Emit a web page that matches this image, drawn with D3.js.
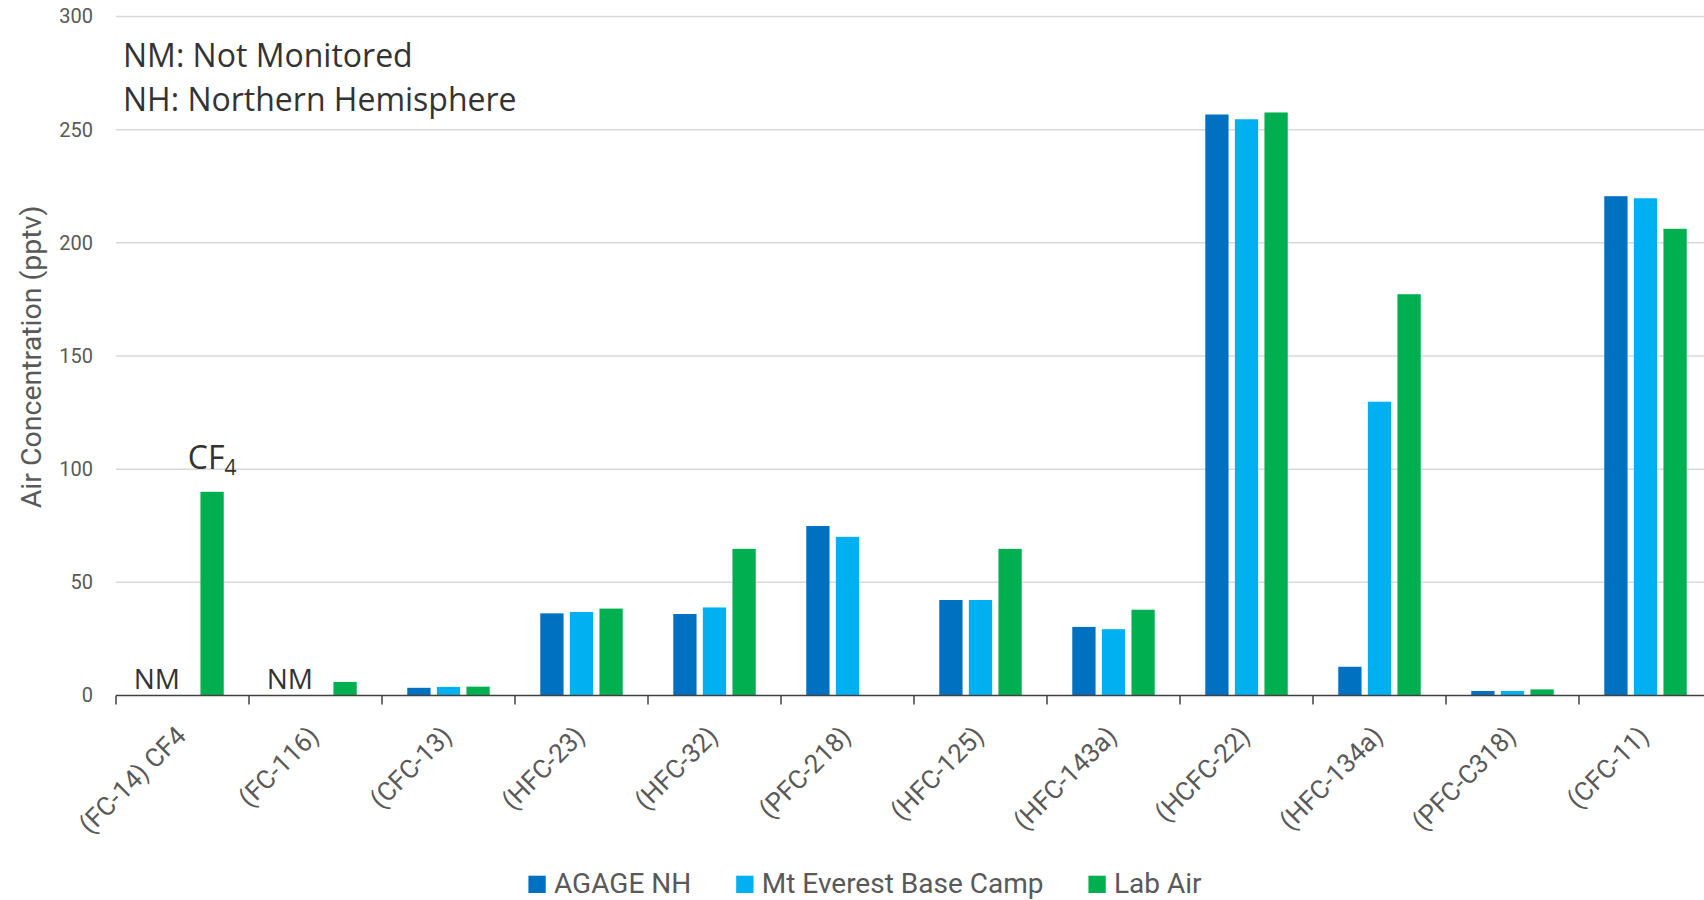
<!DOCTYPE html>
<html>
<head>
<meta charset="utf-8">
<script src="https://cdn.jsdelivr.net/npm/d3@7"></script>
<style>
    body { margin: 0; background: #fff; }
    svg { display: block; }
</style>
</head>
<body>
<div id="chart"></div>
<script>

// Data (pptv); null = no bar
const categories = ["(FC-14) CF4", "(FC-116)", "(CFC-13)", "(HFC-23)", "(HFC-32)", "(PFC-218)",
    "(HFC-125)", "(HFC-143a)", "(HCFC-22)", "(HFC-134a)", "(PFC-C318)", "(CFC-11)"];
const seriesNames = ["AGAGE NH", "Mt Everest Base Camp", "Lab Air"];
const agageNH = [null, null, 3.4, 36.3, 36, 74.9, 42.2, 30.3, 256.7, 12.7, 2.0, 220.6];
const everest = [null, null, 3.8, 36.9, 38.9, 70.1, 42.2, 29.3, 254.6, 129.8, 2.0, 219.7];
const labAir = [90, 6, 3.9, 38.4, 64.8, null, 64.8, 37.9, 257.6, 177.3, 2.7, 206.2];
const yTicks = [0, 50, 100, 150, 200, 250, 300];
const notMonitored = ["(FC-14) CF4", "(FC-116)"];
const colors = ["#0070C0", "#00B0F0", "#00B050"];

const seriesValues = [agageNH, everest, labAir];

let width = 1704, height = 900;
let plot = {left: 116, right: 1712, top: 16.5, bottom: 695.5};

let svg = d3.select("#chart").append("svg")
    .attr("width", width)
    .attr("height", height);

// Scales
let x0 = d3.scaleBand()
    .domain(categories)
    .range([plot.left, plot.right])
    .paddingInner(0.38)
    .paddingOuter(0.19);

let x1 = d3.scaleBand()
    .domain(seriesNames)
    .range([0, x0.bandwidth()])
    .paddingInner(0.213);

let y = d3.scaleLinear()
    .domain([0, 300])
    .range([plot.bottom, plot.top]);

// Gridlines
svg.append("g")
    .selectAll("line")
    .data(yTicks.filter(d => d > 0))
    .join("line")
    .attr("x1", plot.left)
    .attr("x2", plot.right)
    .attr("y1", d => y(d))
    .attr("y2", d => y(d))
    .attr("stroke", "#d9d9d9")
    .attr("stroke-width", 1.5);

// Y axis labels
let yAxis = d3.axisLeft(y).tickValues(yTicks).tickSize(0).tickPadding(23);
let yG = svg.append("g")
    .attr("transform", `translate(${plot.left},0)`)
    .call(yAxis);
yG.select(".domain").remove();
yG.selectAll("text")
    .attr("font-family", "Roboto")
    .attr("font-size", 20)
    .attr("fill", "#595959");

// Y axis title
svg.append("text")
    .attr("transform", `translate(41, ${(plot.top + plot.bottom) / 2 + 1}) rotate(-90)`)
    .attr("text-anchor", "middle")
    .attr("font-family", "Roboto")
    .attr("font-size", 28.5)
    .attr("fill", "#595959")
    .text("Air Concentration (pptv)");

// Bars
let rows = categories.map((c, i) => ({
    cat: c,
    values: seriesNames.map((s, j) => ({series: s, idx: j, value: seriesValues[j][i]}))
}));

let groups = svg.append("g")
    .selectAll("g")
    .data(rows)
    .join("g")
    .attr("transform", d => `translate(${x0(d.cat)},0)`);

groups.selectAll("rect")
    .data(d => d.values.filter(v => v.value !== null))
    .join("rect")
    .attr("x", d => x1(d.series))
    .attr("width", x1.bandwidth())
    .attr("y", d => y(d.value))
    .attr("height", d => y(0) - y(d.value))
    .attr("fill", d => colors[d.idx]);

// X axis line + ticks at category edges
let edge = c => x0(c) + x0.bandwidth() / 2 - x0.step() / 2;
let xG = svg.append("g");
xG.append("line")
    .attr("x1", plot.left)
    .attr("x2", plot.right)
    .attr("y1", y(0))
    .attr("y2", y(0))
    .attr("stroke", "#404040")
    .attr("stroke-width", 1.5);
xG.selectAll(".tick")
    .data(categories)
    .join("line")
    .attr("class", "tick")
    .attr("x1", d => edge(d))
    .attr("x2", d => edge(d))
    .attr("y1", y(0))
    .attr("y2", y(0) + 9)
    .attr("stroke", "#404040")
    .attr("stroke-width", 1.5);

xG.selectAll(".xlabel")
    .data(categories)
    .join("text")
    .attr("class", "xlabel")
    .attr("transform", d => `translate(${x0(d) + x0.bandwidth() / 2 + 5}, ${y(0) + 42}) rotate(-45)`)
    .attr("text-anchor", "end")
    .attr("font-family", "Roboto")
    .attr("font-size", 26)
    .attr("fill", "#595959")
    .text(d => d);

// Annotations
svg.selectAll(".nm")
    .data(notMonitored)
    .join("text")
    .attr("class", "nm")
    .attr("x", d => x0(d) + x1(seriesNames[0]) + x1.bandwidth() / 2 + 4)
    .attr("y", y(0) - 7)
    .attr("text-anchor", "middle")
    .attr("font-family", "Open Sans")
    .attr("font-size", 28)
    .attr("fill", "#333")
    .text("NM");

let cf4 = svg.append("text")
    .attr("x", x0(categories[0]) + x1(seriesNames[2]) + x1.bandwidth() / 2)
    .attr("y", y(labAir[0]) - 23)
    .attr("text-anchor", "middle")
    .attr("font-family", "Open Sans")
    .attr("font-size", 32)
    .attr("fill", "#333");
cf4.append("tspan").text("CF");
cf4.append("tspan").attr("font-size", 21).attr("dy", 6).text("4");

let notes = ["NM: Not Monitored", "NH: Northern Hemisphere"];
svg.selectAll(".note")
    .data(notes)
    .join("text")
    .attr("class", "note")
    .attr("x", 123)
    .attr("y", (d, i) => 66.7 + i * 44.5)
    .attr("font-family", "Open Sans")
    .attr("font-size", 32)
    .attr("fill", "#333")
    .text(d => d);

// Legend, centered
let legend = svg.append("g");
let items = legend.selectAll("g")
    .data(seriesNames)
    .join("g");
items.append("rect")
    .attr("width", 17.3)
    .attr("height", 17.3)
    .attr("y", 875.7)
    .attr("fill", (d, i) => colors[i]);
items.append("text")
    .attr("x", 25.6)
    .attr("y", 892.7)
    .attr("font-family", "Roboto")
    .attr("font-size", 28)
    .attr("fill", "#595959")
    .text(d => d);

let offsets = [], pos = 0;
items.each(function () {
    offsets.push(pos);
    pos += 25.6 + d3.select(this).select("text").node().getComputedTextLength() + 45;
});
let totalW = pos - 45;
let startX = 865 - totalW / 2;
items.attr("transform", (d, i) => `translate(${startX + offsets[i]},0)`);

</script>
</body>
</html>
